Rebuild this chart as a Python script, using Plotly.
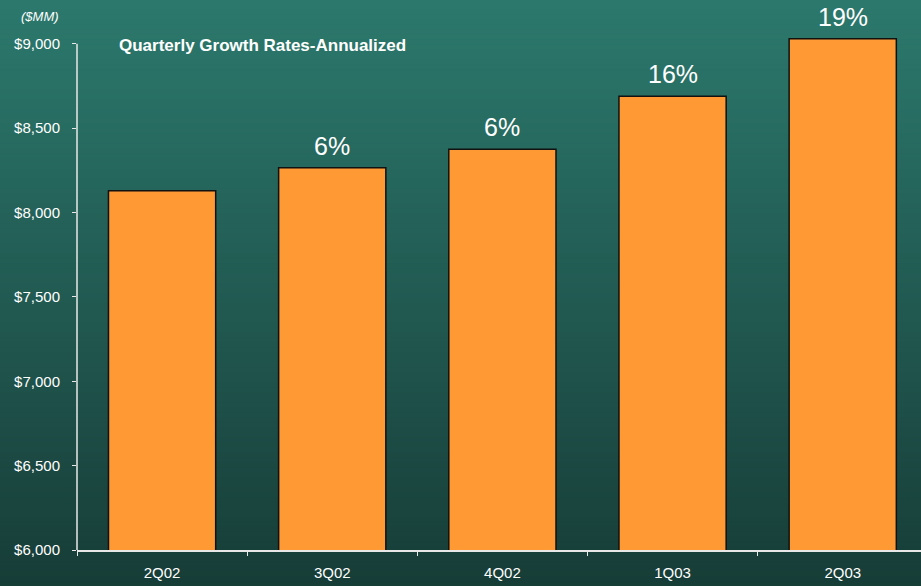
import plotly.graph_objects as go

# Quarterly totals ($MM) and annualized growth labels
quarters = ["2Q02", "3Q02", "4Q02", "1Q03", "2Q03"]
totals = [8130, 8265, 8375, 8690, 9030]
growth_labels = ["", "6%", "6%", "16%", "19%"]
tick_values = [6000, 6500, 7000, 7500, 8000, 8500, 9000]
tick_labels = ["$6,000", "$6,500", "$7,000", "$7,500", "$8,000", "$8,500", "$9,000"]

W, H = 921, 586
M_L, M_B = 77, 36
PLOT_H = H - M_B
FONT = "Liberation Sans, Arial, sans-serif"

TOP_RGB = (44, 121, 109)
BOT_RGB = (23, 60, 55)

fig = go.Figure()
fig.add_trace(go.Bar(
    x=quarters,
    y=totals,
    width=0.63,
    marker=dict(color="#FF9933", line=dict(color="#111111", width=1.5)),
    hoverinfo="skip",
))

shapes = []
# vertical background gradient built from thin bands
n_bands = 120
y_lo = -M_B / PLOT_H - 0.01
y_hi = 1.01
for i in range(n_bands):
    t = i / (n_bands - 1)
    r = round(BOT_RGB[0] + (TOP_RGB[0] - BOT_RGB[0]) * t)
    g = round(BOT_RGB[1] + (TOP_RGB[1] - BOT_RGB[1]) * t)
    b = round(BOT_RGB[2] + (TOP_RGB[2] - BOT_RGB[2]) * t)
    y0 = y_lo + (y_hi - y_lo) * i / n_bands
    y1 = y_lo + (y_hi - y_lo) * (i + 1.6) / n_bands
    shapes.append(dict(
        type="rect", xref="paper", yref="paper", layer="below",
        x0=-0.2, x1=1.2, y0=y0, y1=min(y1, y_hi),
        fillcolor=f"rgb({r},{g},{b})", line=dict(width=0),
    ))

# value axis line, spanning only the labelled range
shapes.append(dict(
    type="line", xref="paper", yref="y", layer="above",
    x0=0, x1=0, y0=6000, y1=9000,
    line=dict(color="#E8E8E8", width=1.5),
))

annotations = []
for q, v, lab in zip(quarters, totals, growth_labels):
    if lab:
        annotations.append(dict(
            x=q, y=v, xref="x", yref="y", text=lab, showarrow=False,
            yanchor="middle", yshift=22,
            font=dict(family=FONT, size=25, color="white"),
        ))

annotations.append(dict(
    x=117, y=46, xref="paper", yref="paper", text="<b>Quarterly Growth Rates-Annualized</b>",
    showarrow=False, xanchor="left", yanchor="middle",
    font=dict(family=FONT, size=17, color="white"),
))
annotations.append(dict(
    x=19, y=17, xref="paper", yref="paper", text="<i>($MM)</i>",
    showarrow=False, xanchor="left", yanchor="middle",
    font=dict(family=FONT, size=13, color="white"),
))
# convert pixel-placed notes to paper coordinates
for a in annotations[-2:]:
    a["x"] = (a["x"] - M_L) / (W - M_L)
    a["y"] = (PLOT_H - a["y"]) / PLOT_H

fig.update_layout(
    width=W, height=H,
    margin=dict(l=M_L, r=0, t=0, b=M_B),
    paper_bgcolor="rgb(23,60,55)",
    plot_bgcolor="rgba(0,0,0,0)",
    showlegend=False,
    shapes=shapes,
    annotations=annotations,
    font=dict(family=FONT, color="white"),
    xaxis=dict(
        range=[-0.5, 4.46],
        showline=True, linecolor="#E8E8E8", linewidth=1.5,
        ticks="outside", tickson="boundaries", ticklen=4, tickcolor="#E8E8E8",
        ticklabelstandoff=8,
        tickfont=dict(size=15, color="white"),
        showgrid=False, zeroline=False, fixedrange=True,
    ),
    yaxis=dict(
        range=[6000, 9260],
        tickvals=tick_values, ticktext=tick_labels,
        ticks="outside", ticklen=4, tickcolor="#E8E8E8",
        ticklabelstandoff=9,
        tickfont=dict(size=15, color="white"),
        showline=False, showgrid=False, zeroline=False, fixedrange=True,
    ),
)

fig.write_html("out.html", config={"displayModeBar": False})
